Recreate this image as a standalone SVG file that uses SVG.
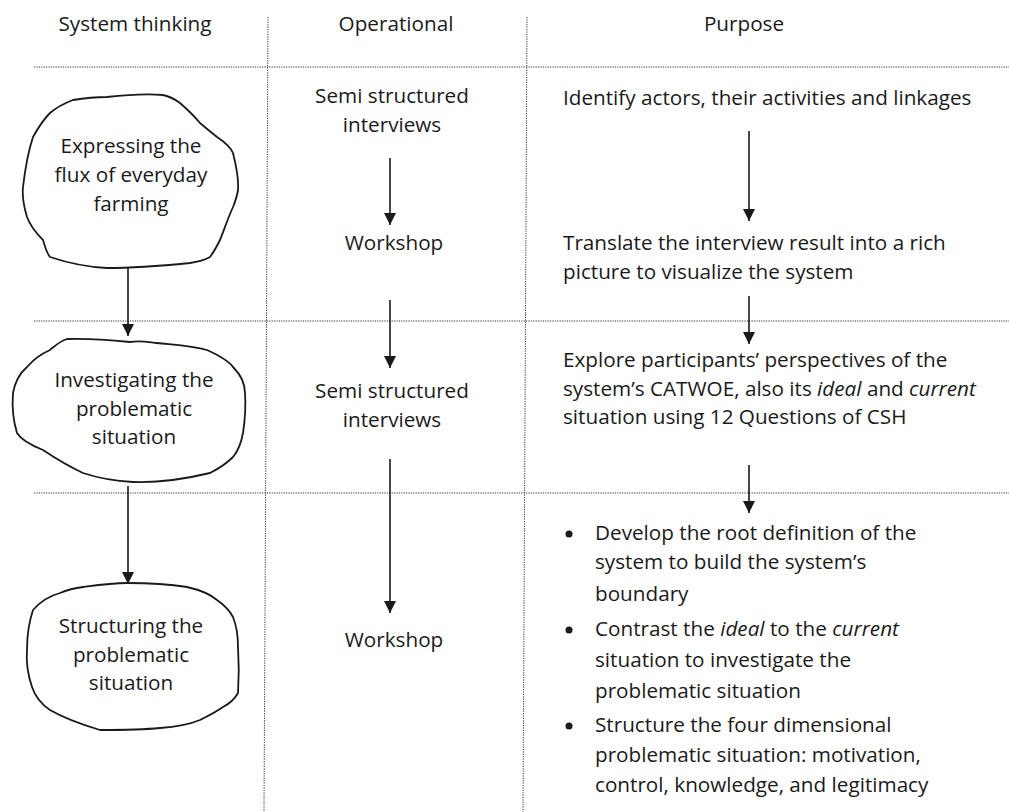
<svg xmlns="http://www.w3.org/2000/svg" width="1009" height="812" viewBox="0 0 1009 812">
<style>
text{font-family:"Open Sans","Liberation Sans",sans-serif;font-size:20.7px;fill:#1a1a1a}
.c{text-anchor:middle}
.grid{stroke:#333;stroke-width:1;stroke-dasharray:1.2 1.2;fill:none}
.cloud{fill:none;stroke:#1a1a1a;stroke-width:1.8;stroke-linejoin:round}
.arr{stroke:#1a1a1a;stroke-width:1.6;fill:none;marker-end:url(#ah)}
</style>
<defs>
<marker id="ah" viewBox="0 0 10 10" refX="10" refY="5" markerWidth="12" markerHeight="12" markerUnits="userSpaceOnUse" orient="auto">
<path d="M0,0 L10,5 L0,10 Z" fill="#1a1a1a"/>
</marker>
</defs>
<g id="grid">
<line class="grid" x1="268" y1="17" x2="264" y2="812"/>
<line class="grid" x1="527" y1="17" x2="523" y2="812"/>
<line class="grid" x1="34" y1="67" x2="1009" y2="67"/>
<line class="grid" x1="34" y1="321" x2="1009" y2="321"/>
<line class="grid" x1="34" y1="493" x2="1009" y2="493"/>
</g>
<g id="headers">
<text class="c" x="135" y="31">System thinking</text>
<text class="c" x="396" y="31">Operational</text>
<text class="c" x="744" y="31">Purpose</text>
</g>
<g id="node-expressing">
<path class="cloud" d="M107,97 C125,95 150,94 163,95 C172,97 176,100 180,103 C188,110 195,117 200,123 C207,129 212,133 217,137 C226,143 231,148 233,153 C236,165 239,178 238,190 C237,197 235,202 233,207 C228,218 224,230 220,240 C216,248 213,253 210,257 C203,261 197,262 190,263 C160,266 130,268 107,268 C85,267 65,262 50,257 C46,252 45,246 43,240 C35,232 30,225 27,217 C24,207 22,197 23,187 C25,170 28,152 33,137 C38,128 44,119 50,113 C57,107 65,103 73,100 C85,98 96,97 107,97 Z"/>
<text class="c" x="131" y="153">Expressing the</text>
<text class="c" x="131" y="182">flux of everyday</text>
<text class="c" x="131" y="211">farming</text>
</g>
<g id="node-investigating">
<path class="cloud" d="M130,342 C140,340 148,342 157,343 C175,345 192,346 207,350 C218,355 228,360 233,367 C241,375 245,384 245,393 C246,407 245,420 243,433 C241,444 238,451 233,457 C226,464 218,469 210,473 C185,479 160,483 133,482 C115,481 98,478 83,473 C68,466 55,458 43,450 C33,446 22,441 17,433 C13,420 12,406 13,393 C15,382 20,373 27,367 C33,360 41,354 50,350 C56,345 60,341 67,339 C88,338 110,340 130,342 Z"/>
<text class="c" x="134" y="387">Investigating the</text>
<text class="c" x="134" y="416">problematic</text>
<text class="c" x="134" y="444">situation</text>
</g>
<g id="node-structuring">
<path class="cloud" d="M127,583 C148,583 168,584 187,587 C200,590 210,594 217,600 C224,605 230,611 233,617 C237,627 238,637 238,647 C239,662 239,678 238,693 C234,700 229,704 223,707 C216,712 208,716 200,720 C188,725 174,727 160,728 C140,730 120,730 100,730 C80,724 62,717 50,710 C41,704 35,696 32,687 C28,675 26,662 27,650 C27,636 29,622 33,610 C40,602 49,596 60,593 C67,590 75,588 83,587 C98,585 112,583 127,583 Z"/>
<text class="c" x="131" y="633">Structuring the</text>
<text class="c" x="131" y="662">problematic</text>
<text class="c" x="131" y="690">situation</text>
</g>
<g id="node-op1">
<text class="c" x="392" y="103">Semi structured</text>
<text class="c" x="392" y="132">interviews</text>
</g>
<g id="node-op2">
<text class="c" x="394" y="250">Workshop</text>
</g>
<g id="node-op3">
<text class="c" x="392" y="398">Semi structured</text>
<text class="c" x="392" y="427">interviews</text>
</g>
<g id="node-op4">
<text class="c" x="394" y="647">Workshop</text>
</g>
<g id="node-p1">
<text x="563" y="105">Identify actors, their activities and linkages</text>
</g>
<g id="node-p2">
<text x="563" y="250">Translate the interview result into a rich</text>
<text x="563" y="279">picture to visualize the system</text>
</g>
<g id="node-p3">
<text x="563" y="367">Explore participants’ perspectives of the</text>
<text x="563" y="396">system’s CATWOE, also its <tspan font-style="italic">ideal</tspan> and <tspan font-style="italic">current</tspan></text>
<text x="563" y="424">situation using 12 Questions of CSH</text>
</g>
<g id="node-p4">
<circle cx="569" cy="534" r="3.5" fill="#1a1a1a"/>
<text x="595" y="540">Develop the root definition of the</text>
<text x="595" y="569">system to build the system’s</text>
<text x="595" y="601">boundary</text>
<circle cx="569" cy="630" r="3.5" fill="#1a1a1a"/>
<text x="595" y="636">Contrast the <tspan font-style="italic">ideal</tspan> to the <tspan font-style="italic">current</tspan></text>
<text x="595" y="667">situation to investigate the</text>
<text x="595" y="698">problematic situation</text>
<circle cx="569" cy="726" r="3.5" fill="#1a1a1a"/>
<text x="595" y="732">Structure the four dimensional</text>
<text x="595" y="762">problematic situation: motivation,</text>
<text x="595" y="792">control, knowledge, and legitimacy</text>
</g>
<g id="connectors">
<line class="arr" x1="128" y1="268" x2="128" y2="336"/>
<line class="arr" x1="128" y1="486" x2="128" y2="584"/>
<line class="arr" x1="390" y1="158" x2="390" y2="225"/>
<line class="arr" x1="390" y1="300" x2="390" y2="368"/>
<line class="arr" x1="390" y1="459" x2="390" y2="613"/>
<line class="arr" x1="749" y1="131" x2="749" y2="221"/>
<line class="arr" x1="749" y1="296" x2="749" y2="344"/>
<line class="arr" x1="749" y1="465" x2="749" y2="513"/>
</g>
</svg>
